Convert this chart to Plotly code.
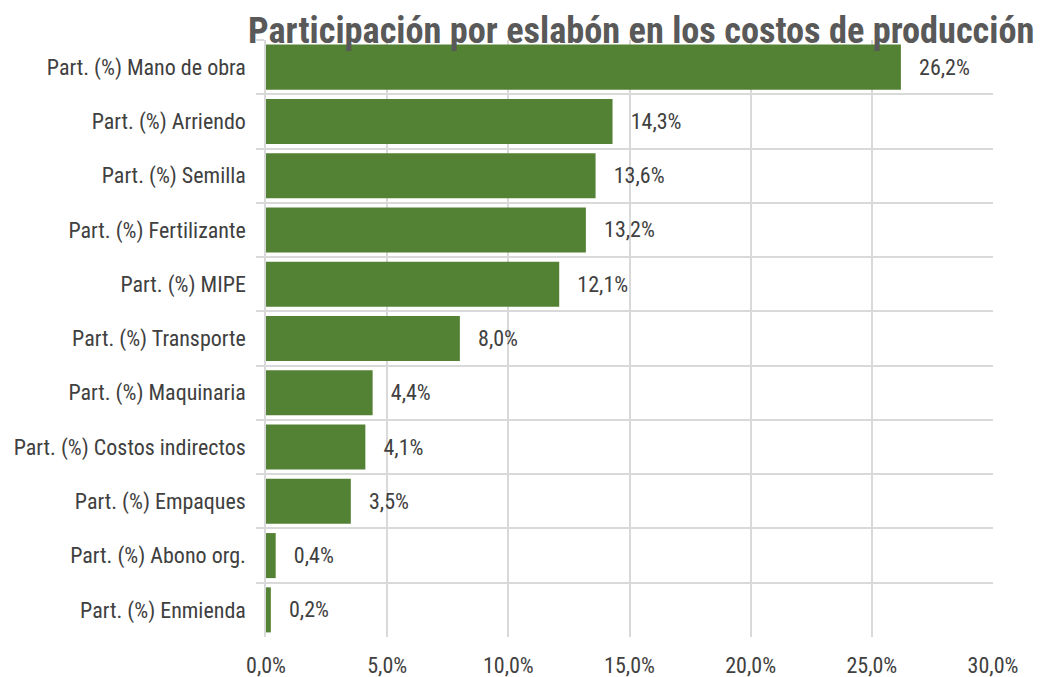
import plotly.graph_objects as go

categories = ["Part. (%) Mano de obra", "Part. (%) Arriendo", "Part. (%) Semilla",
              "Part. (%) Fertilizante", "Part. (%) MIPE", "Part. (%) Transporte",
              "Part. (%) Maquinaria", "Part. (%) Costos indirectos", "Part. (%) Empaques",
              "Part. (%) Abono org.", "Part. (%) Enmienda"]
values = [26.2, 14.3, 13.6, 13.2, 12.1, 8.0, 4.4, 4.1, 3.5, 0.4, 0.2]
x_ticks = [0, 5, 10, 15, 20, 25, 30]
x_ticktext = ["0,0%", "5,0%", "10,0%", "15,0%", "20,0%", "25,0%", "30,0%"]

FONT = "Liberation Sans Narrow, Roboto Condensed, Arial Narrow, Roboto, sans-serif"
GRID = "#d9d9d9"

W, H = 1045, 677
ML, MR, MT, MB = 258, 60, 32, 48
PW, PH = W - ML - MR, H - MT - MB

fig = go.Figure(go.Bar(
    y=categories, x=values, orientation="h",
    marker=dict(color="#548235", line=dict(width=0)),
    texttemplate="\u00a0\u00a0\u00a0%{x:.1f}%", textposition="outside",
    textfont=dict(size=22, color="#404040", family=FONT),
    cliponaxis=False, width=0.83,
))

fig.update_layout(
    width=W, height=H,
    margin=dict(l=ML, r=MR, t=MT, b=MB, autoexpand=False),
    paper_bgcolor="white", plot_bgcolor="white",
    separators=",.",
    font=dict(family=FONT, color="#404040", size=22),
    showlegend=False,
    annotations=[dict(
        text="<b>Participación por eslabón en los costos de producción</b>",
        x=(633 - ML) / PW, xref="paper", xanchor="center",
        y=1 + (MT + 1) / PH, yref="paper", yanchor="top",
        showarrow=False,
        font=dict(size=36.3, color="#595959", family=FONT),
    )],
)

fig.update_xaxes(
    range=[0, 30], tickmode="array", tickvals=x_ticks, ticktext=x_ticktext,
    showgrid=True, gridcolor=GRID, gridwidth=1.5, zeroline=False,
    showline=False, ticks="", tickfont=dict(size=22, color="#404040"),
    ticklabelstandoff=13, automargin=False,
)
fig.update_yaxes(
    type="category", autorange="reversed", tickson="boundaries",
    showgrid=True, gridcolor=GRID, gridwidth=1.5,
    ticks="outside", ticklen=8, tickcolor=GRID, tickwidth=1.5,
    showline=True, linecolor=GRID, linewidth=1.5,
    tickfont=dict(size=22, color="#404040"),
    ticklabelstandoff=14, automargin=False,
)

fig.write_html("out.html")
